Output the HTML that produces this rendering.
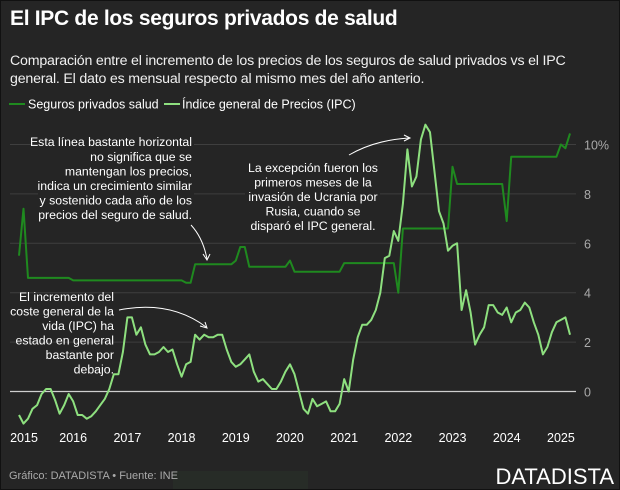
<!DOCTYPE html>
<html><head><meta charset="utf-8">
<style>
body{margin:0;background:#000;}
#wrap{position:relative;width:618px;height:488px;background:#252525;border:1px solid #111;overflow:hidden;font-family:"Liberation Sans",sans-serif;color:#fff;}
h1{position:absolute;left:9px;top:6px;margin:0;font-size:21px;font-weight:bold;letter-spacing:-0.3px;}
.sub{position:absolute;left:9px;top:51px;font-size:14.2px;line-height:18px;color:#f0f0f0;letter-spacing:-0.2px;}
svg{position:absolute;left:-1px;top:-1px;font-family:"Liberation Sans",sans-serif;}
</style></head>
<body>
<div id="wrap">
<h1>El IPC de los seguros privados de salud</h1>
<div class="sub">Comparación entre el incremento de los precios de los seguros de salud privados vs el IPC<br>general. El dato es mensual respecto al mismo mes del año anterio.</div>
<svg id="chart" width="620" height="490"></svg>
<svg width="620" height="490">
  <g font-size="12.5" fill="#fff">
    <line x1="9" x2="25" y1="104" y2="104" stroke="#1f8a1f" stroke-width="2"/>
    <text x="28" y="108.5">Seguros privados salud</text>
    <line x1="164" x2="180" y1="104" y2="104" stroke="#8ee07f" stroke-width="2"/>
    <text x="182" y="108.5">Índice general de Precios (IPC)</text>
  </g>
  <g font-size="12.3" fill="#fff" text-anchor="end">
    <rect x="38" y="132" width="156" height="92" fill="#252525"/>
    <text x="192" y="146">Esta línea bastante horizontal</text>
    <text x="192" y="161">no significa que se</text>
    <text x="192" y="175.5">mantengan los precios,</text>
    <text x="192" y="190">indica un crecimiento similar</text>
    <text x="192" y="204.5">y sostenido cada año de los</text>
    <text x="192" y="219">precios del seguro de salud.</text>
  </g>
  <path d="M191,225 Q203,238 207,259" stroke="#fff" fill="none" stroke-width="1"/>
  <path d="M203,254 L207,260 L210,254" stroke="#fff" fill="none" stroke-width="1"/>
  <g font-size="12.3" fill="#fff" text-anchor="end">
    <text x="114" y="301">El incremento del</text>
    <text x="114" y="315.5">coste general de la</text>
    <text x="114" y="330">vida (IPC) ha</text>
    <text x="114" y="344.5">estado en general</text>
    <text x="114" y="359">bastante por</text>
    <text x="114" y="373.5">debajo.</text>
  </g>
  <path d="M119,310 Q170,300 206,327" stroke="#fff" fill="none" stroke-width="1"/>
  <path d="M200,326 L207,328 L205,322" stroke="#fff" fill="none" stroke-width="1"/>
  <g font-size="12.3" fill="#fff" text-anchor="middle">
    <rect x="245" y="158" width="135" height="76" fill="#252525"/>
    <text x="313" y="172">La excepción fueron los</text>
    <text x="313" y="186.5">primeros meses de la</text>
    <text x="313" y="201">invasión de Ucrania por</text>
    <text x="313" y="215.5">Rusia, cuando se</text>
    <text x="313" y="230">disparó el IPC general.</text>
  </g>
  <path d="M349,155 Q375,140 409,138" stroke="#fff" fill="none" stroke-width="1"/>
  <path d="M404,135 L410,138 L404,141" stroke="#fff" fill="none" stroke-width="1"/>
  <rect x="173" y="471" width="135" height="18" fill="#272c27"/>
  <text x="9" y="479" font-size="11" fill="#aaa">Gráfico: DATADISTA • Fuente: INE</text>
  <text x="614" y="484" font-size="22" fill="#fff" text-anchor="end">DATADISTA</text>
</svg>
</div>
<script>
const years = [2015,2016,2017,2018,2019,2020,2021,2022,2023,2024,2025];
const yTicks = [0,2,4,6,8,10];
const ipcValues = [
-0.95,-1.3,-1.1,-0.7,-0.55,-0.1,0.1,0.1,-0.35,-0.9,-0.55,-0.1,
-0.4,-0.95,-0.95,-1.1,-1.0,-0.8,-0.55,-0.3,0.1,0.7,0.7,1.6,
3.0,3.0,2.3,2.6,1.9,1.5,1.5,1.6,1.8,1.6,1.7,1.1,
0.6,1.1,1.2,2.3,2.1,2.3,2.2,2.2,2.3,2.3,1.7,1.2,
1.0,1.1,1.3,1.5,0.8,0.4,0.5,0.3,0.1,0.1,0.4,0.8,
1.1,0.7,0.0,-0.7,-0.9,-0.3,-0.6,-0.5,-0.4,-0.8,-0.8,-0.5,
0.5,0.0,1.3,2.2,2.7,2.7,2.9,3.3,4.0,5.4,5.5,6.5,
6.1,7.6,9.8,8.3,8.7,10.2,10.8,10.5,8.9,7.3,6.8,5.7,
5.9,6.0,3.3,4.1,3.2,1.9,2.3,2.6,3.5,3.5,3.2,3.1,
3.4,2.8,3.2,3.3,3.6,3.4,2.8,2.3,1.5,1.8,2.4,2.8,
2.9,3.0,2.3];
const seguroValues = [
5.5,7.4,4.6,4.6,4.6,4.6,4.6,4.6,4.6,4.6,4.6,4.6,
4.5,4.5,4.5,4.5,4.5,4.5,4.5,4.5,4.5,4.5,4.5,4.5,
4.5,4.5,4.5,4.5,4.5,4.5,4.5,4.5,4.5,4.5,4.5,4.5,
4.5,4.4,4.4,5.15,5.15,5.15,5.15,5.15,5.15,5.15,5.15,5.15,
5.3,5.85,5.85,5.05,5.05,5.05,5.05,5.05,5.05,5.05,5.05,5.05,
5.3,4.85,4.85,4.85,4.85,4.85,4.85,4.85,4.85,4.85,4.85,4.85,
5.2,5.2,5.2,5.2,5.2,5.2,5.2,5.2,5.2,5.2,5.2,5.2,
4.0,6.6,6.6,6.6,6.6,6.6,6.6,6.6,6.6,6.6,6.6,6.6,
9.1,8.4,8.4,8.4,8.4,8.4,8.4,8.4,8.4,8.4,8.4,8.4,
6.9,9.5,9.5,9.5,9.5,9.5,9.5,9.5,9.5,9.5,9.5,9.5,
10.0,9.85,10.45];

const NS="http://www.w3.org/2000/svg";
const svg=document.getElementById('chart');
const x0=19, pxPerMonth=4.516;
function xScale(m){return x0+m*pxPerMonth;}
function yScale(v){return 391.5-v*24.7;}
function mk(tag,attrs,parent){const e=document.createElementNS(NS,tag);for(const k in attrs)e.setAttribute(k,attrs[k]);(parent||svg).appendChild(e);return e;}

yTicks.forEach(t=>{
  const l=mk('line',{x1:10,x2:576,y1:yScale(t),y2:yScale(t),stroke:t===0?'#cfcfcf':'#3f3f3f','stroke-width':t===0?1.3:1});
  
  
  const tx=mk('text',{x:584,y:yScale(t)+5,fill:'#aaa','font-size':12.5});
  tx.textContent=t===10?'10%':String(t);
  
  
});
years.forEach((yr,i)=>{
  let cx=xScale(i*12); if(i===0) cx=24;
  const tx=mk('text',{x:cx,y:442,fill:'#fff','font-size':12.5,'text-anchor':'middle'});
  tx.textContent=String(yr);
  
  
});
function line(vals,color,name){
  const d=vals.map((v,i)=>(i?'L':'M')+xScale(i).toFixed(1)+','+yScale(v).toFixed(1)).join('');
  const p=mk('path',{d:d,fill:'none',stroke:color,'stroke-width':2,'stroke-linejoin':'round'});
  
  
}
line(seguroValues,'#1f8a1f','seguros-line');
line(ipcValues,'#8ee07f','ipc-line');
</script>
</body></html>
